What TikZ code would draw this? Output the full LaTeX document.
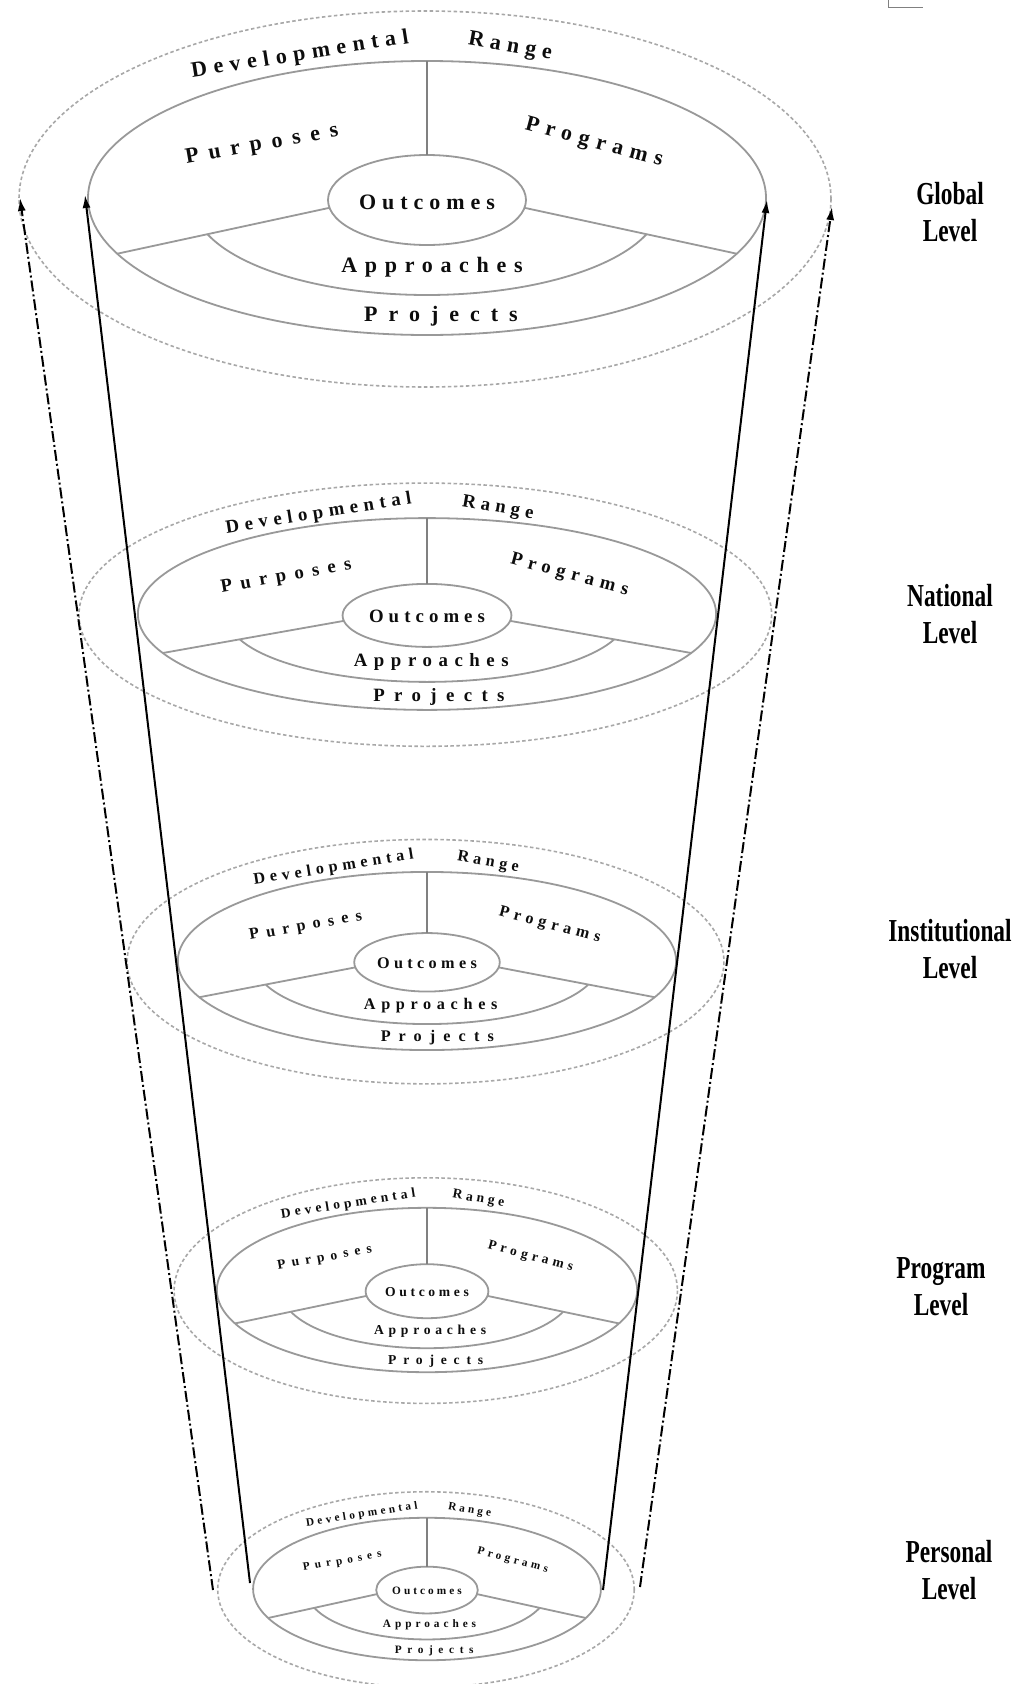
\documentclass[tikz,border=0pt]{standalone}
\usepackage{fontspec}
\setmainfont{Liberation Serif}
\usetikzlibrary{arrows.meta}
\definecolor{ringgray}{gray}{0.6}
\definecolor{outergray}{gray}{0.66}
\definecolor{divgray}{gray}{0.5}
\definecolor{txt}{gray}{0.05}
\newcommand\lsp[2]{{\addfontfeatures{LetterSpace=#1}#2}}
\tikzset{
  ring/.style={draw=ringgray, line width=1.8pt},
  outerring/.style={draw=outergray, line width=1.6pt, dash pattern=on 3.5pt off 2.5pt},
  divider/.style={draw=divgray, line width=1.1pt},
  lvtext/.style={inner sep=0pt, text=txt, font=\fontsize{\lvfs}{\lvfs}\selectfont\bfseries},
  levellabel/.style={align=center, inner sep=0pt, font=\fontsize{32}{37}\selectfont\bfseries, xscale=0.73, text=black},
  cone/.style={draw=black, line width=2pt, -{Latex[length=13pt,width=8pt]}},
  conedash/.style={cone, dash pattern=on 11pt off 3pt on 2pt off 3pt},
}
% #1 centre y, #2 x scale, #3 y scale, #4 font size, #5 name prefix
\newcommand\drawlevel[5]{%
  \def\lvfs{#4}%
  \begin{scope}[shift={(427,#1)}, xscale=#2, yscale=#3]
    \draw[outerring] (-2,1) ellipse [x radius=406, y radius=188];
    \draw[ring] (0,0) ellipse [x radius=339, y radius=137];
    \draw[ring] (0,2) ellipse [x radius=99, y radius=45];
    \draw[divider] (0,-137) -- (0,-43);
    \draw[ring] (-97.5,9.8) -- (-309.7,55.7);
    \draw[ring] (97.5,9.8) -- (309.7,55.7);
    \draw[ring] plot[domain=159.5:20.5, samples=60, smooth] ({234*cos(\x)},{4+93*sin(\x)});
    \node[lvtext, rotate=9]   (#5dev)  at (-127,-143) {\lsp{30}{Developmental}};
    \node[lvtext, rotate=-10] (#5rng)  at (83,-151)   {\lsp{28}{Range}};
    \node[lvtext, rotate=10]  (#5pur)  at (-165,-53)  {\lsp{45}{Purposes}};
    \node[lvtext, rotate=-15] (#5prg)  at (167,-55)   {\lsp{32}{Programs}};
    \node[lvtext]             (#5out)  at (0,4)       {\lsp{27}{Outcomes}};
    \node[lvtext]             (#5app)  at (5,69)      {\lsp{35}{Approaches}};
    \node[lvtext]             (#5prj)  at (14,118)    {\lsp{50}{Projects}};
  \end{scope}}
\begin{document}
\begin{tikzpicture}[x=1pt, y=-1pt]
  \useasboundingbox[fill=white] (0,0) rectangle (1018,1684);
  \draw[divgray, line width=1pt] (888,0) -- (888,7) -- (923,7);

  \drawlevel{198}{1}{1}{22}{g}
  \drawlevel{614}{0.853}{0.70}{18.8}{n}
  \drawlevel{961}{0.735}{0.65}{16.2}{i}
  \drawlevel{1290}{0.62}{0.60}{13.6}{p}
  \drawlevel{1589}{0.513}{0.52}{11.3}{e}

  \node[levellabel] (lglobal) at (950,212)  {Global\\Level};
  \node[levellabel] (lnat)    at (950,614)  {National\\Level};
  \node[levellabel] (linst)   at (950,949)  {Institutional\\Level};
  \node[levellabel] (lprog)   at (941,1287) {Program\\Level};
  \node[levellabel] (lpers)   at (949,1570) {Personal\\Level};

  \coordinate (sLb) at (250,1583); \coordinate (sLt) at (85,195);
  \coordinate (sRb) at (603,1590); \coordinate (sRt) at (767,200);
  \coordinate (dLb) at (213,1590); \coordinate (dLt) at (20,198);
  \coordinate (dRb) at (640,1587); \coordinate (dRt) at (832,207);
  \draw[cone] (sLb) -- (sLt);
  \draw[cone] (sRb) -- (sRt);
  \draw[conedash] (dLb) -- (dLt);
  \draw[conedash] (dRb) -- (dRt);
\end{tikzpicture}
\end{document}
